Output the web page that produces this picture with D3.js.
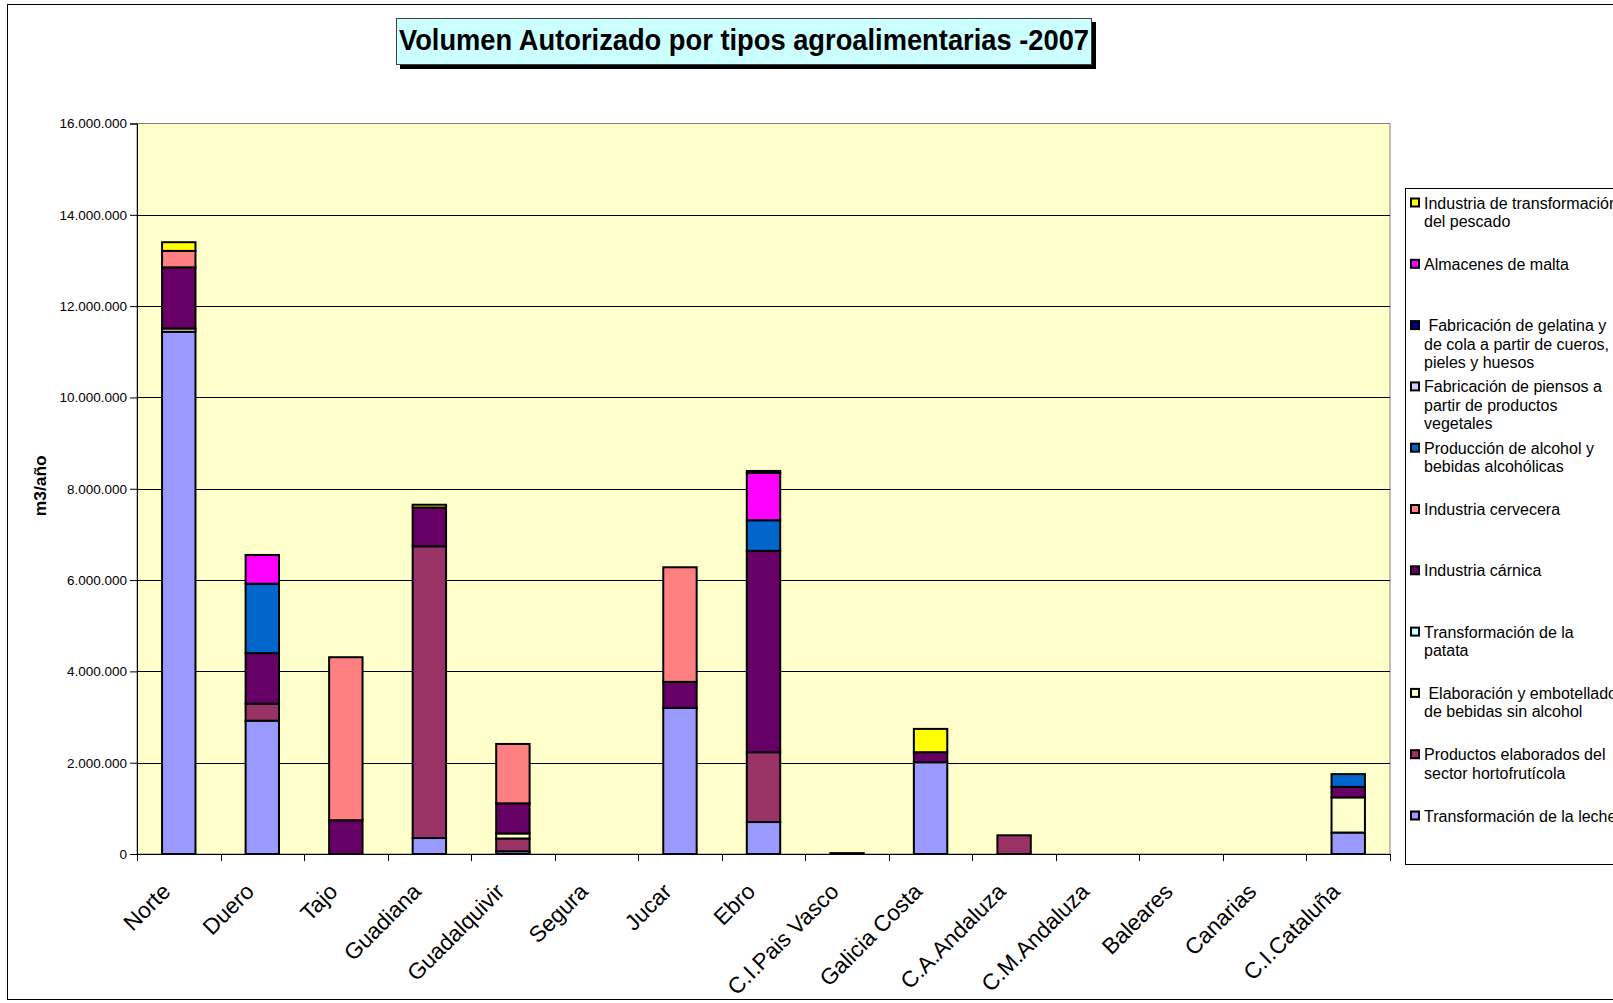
<!DOCTYPE html>
<html>
<head>
<meta charset="utf-8">
<script src="https://cdn.jsdelivr.net/npm/d3@7"></script>
<style>
  body { margin: 0; background: #fff; }
  svg { display: block; font-family: "Liberation Sans", Arial, sans-serif; }
</style>
</head>
<body>
<div id="chart"></div>
<script>
const categories = ["Norte", "Duero", "Tajo", "Guadiana", "Guadalquivir", "Segura", "Jucar", "Ebro",
    "C.I.Pais Vasco", "Galicia Costa", "C.A.Andaluza", "C.M.Andaluza", "Baleares", "Canarias", "C.I.Cataluña"];

// series in stacking order, bottom to top
const seriesKeys = ["leche", "horto", "bebidas", "patata", "carnica", "cervecera", "alcohol", "piensos", "gelatina", "malta", "pescado"];

const seriesLabels = [
    ["Transformación de la leche"],
    ["Productos elaborados del", "sector hortofrutícola"],
    [" Elaboración y embotellado", "de bebidas sin alcohol"],
    ["Transformación de la", "patata"],
    ["Industria cárnica"],
    ["Industria cervecera"],
    ["Producción de alcohol y", "bebidas alcohólicas"],
    ["Fabricación de piensos a", "partir de productos", "vegetales"],
    [" Fabricación de gelatina y", "de cola a partir de cueros,", "pieles y huesos"],
    ["Almacenes de malta"],
    ["Industria de transformación", "del pescado"]
];

const seriesColors = ["#9999FF", "#993366", "#FFFFCC", "#CCFFFF", "#660066", "#FF8080", "#0066CC", "#CCCCFF", "#000080", "#FF00FF", "#FFFF00"];

const leche     = [11440000, 2920000, 0, 350000, 60000, 0, 3200000, 700000, 0, 2010000, 0, 0, 0, 0, 470000];
const horto     = [0, 370000, 0, 6390000, 280000, 0, 0, 1530000, 0, 0, 410000, 0, 0, 0, 0];
const bebidas   = [70000, 0, 0, 0, 110000, 0, 0, 0, 0, 0, 0, 0, 0, 0, 770000];
const patata    = [0, 0, 0, 0, 0, 0, 0, 0, 0, 0, 0, 0, 0, 0, 0];
const carnica   = [1340000, 1110000, 740000, 850000, 660000, 0, 570000, 4410000, 20000, 220000, 0, 0, 0, 0, 230000];
const cervecera = [360000, 0, 3570000, 0, 1300000, 0, 2510000, 0, 0, 0, 0, 0, 0, 0, 0];
const alcohol   = [0, 1520000, 0, 0, 0, 0, 0, 670000, 0, 0, 0, 0, 0, 0, 280000];
const piensos   = [0, 0, 0, 0, 0, 0, 0, 0, 0, 0, 0, 0, 0, 0, 0];
const gelatina  = [0, 0, 0, 0, 0, 0, 0, 0, 0, 0, 0, 0, 0, 0, 0];
const malta     = [0, 630000, 0, 0, 0, 0, 0, 1040000, 0, 0, 0, 0, 0, 0, 0];
const pescado   = [190000, 0, 0, 60000, 0, 0, 0, 40000, 0, 510000, 0, 0, 0, 0, 0];

const yTicks = [0, 2000000, 4000000, 6000000, 8000000, 10000000, 12000000, 14000000, 16000000];

const seriesValues = { leche, horto, bebidas, patata, carnica, cervecera, alcohol, piensos, gelatina, malta, pescado };

const table = categories.map((c, i) => {
    const row = { category: c };
    seriesKeys.forEach(k => row[k] = seriesValues[k][i]);
    return row;
});

const width = 1613;
const height = 1003;
const plot = { left: 137, right: 1390, top: 123.5, bottom: 854 };

const svg = d3.select("#chart")
    .append("svg")
    .attr("width", width)
    .attr("height", height);

// outer chart frame
svg.append("rect")
    .attr("x", 7.5).attr("y", 4.5)
    .attr("width", 1640).attr("height", 995)
    .attr("fill", "#fff")
    .attr("stroke", "#000");

const x = d3.scaleBand()
    .domain(categories)
    .range([plot.left, plot.right])
    .paddingInner(0.6)
    .paddingOuter(0.3);

const xEdges = d3.scaleBand()
    .domain(categories)
    .range([plot.left, plot.right]);

const y = d3.scaleLinear()
    .domain([0, 16000000])
    .range([plot.bottom, plot.top]);

const color = d3.scaleOrdinal().domain(seriesKeys).range(seriesColors);

const locale = d3.formatLocale({ decimal: ",", thousands: ".", grouping: [3], currency: ["", "€"] });
const fmt = locale.format(",");

// plot area
svg.append("rect")
    .attr("x", plot.left).attr("y", plot.top)
    .attr("width", plot.right - plot.left).attr("height", plot.bottom - plot.top)
    .attr("fill", "#FFFFCC")
    .attr("stroke", "#808080");

// gridlines
svg.append("g")
    .selectAll("line")
    .data(yTicks.slice(1, -1))
    .enter()
    .append("line")
    .attr("x1", plot.left).attr("x2", plot.right)
    .attr("y1", d => Math.round(y(d)) + 0.5)
    .attr("y2", d => Math.round(y(d)) + 0.5)
    .attr("stroke", "#000")
    .attr("stroke-width", 1);

// stacked bars
const stacked = d3.stack().keys(seriesKeys)(table);

svg.append("g")
    .selectAll("g")
    .data(stacked)
    .enter()
    .append("g")
    .attr("fill", d => color(d.key))
    .selectAll("rect")
    .data(d => d.filter(s => s[1] - s[0] > 0))
    .enter()
    .append("rect")
    .attr("x", d => x(d.data.category))
    .attr("width", x.bandwidth())
    .attr("y", d => y(d[1]))
    .attr("height", d => y(d[0]) - y(d[1]))
    .attr("stroke", "#000")
    .attr("stroke-width", 2);

// y axis
const yAxis = svg.append("g")
    .attr("transform", `translate(${plot.left},0)`)
    .call(d3.axisLeft(y).tickValues(yTicks).tickSize(7).tickPadding(3).tickFormat(fmt));
yAxis.select(".domain").attr("stroke", "#000");
yAxis.selectAll("line").attr("stroke", "#000");
yAxis.selectAll("text")
    .attr("font-size", "13.5px")
    .attr("fill", "#000")
    .attr("font-family", "'Liberation Sans', Arial, sans-serif");

// x axis
const xAxis = svg.append("g")
    .attr("transform", `translate(0,${plot.bottom})`)
    .call(d3.axisBottom(xEdges).tickSize(0).tickFormat(""));
xAxis.select(".domain").attr("stroke", "#000");

svg.append("g")
    .selectAll("line")
    .data(categories.concat(["end"]))
    .enter()
    .append("line")
    .attr("x1", (d, i) => Math.round(plot.left + i * xEdges.bandwidth()) + 0.5)
    .attr("x2", (d, i) => Math.round(plot.left + i * xEdges.bandwidth()) + 0.5)
    .attr("y1", plot.bottom)
    .attr("y2", plot.bottom + 7)
    .attr("stroke", "#000");

svg.append("g")
    .selectAll("text")
    .data(categories)
    .enter()
    .append("text")
    .attr("transform", d => `translate(${xEdges(d) + xEdges.bandwidth() / 2 - 7},${plot.bottom + 39}) rotate(-45)`)
    .attr("text-anchor", "end")
    .attr("font-size", "22.5px")
    .attr("fill", "#000")
    .text(d => d);

// y axis title
svg.append("text")
    .attr("transform", `translate(46,${(plot.top + plot.bottom) / 2 - 3}) rotate(-90)`)
    .attr("text-anchor", "middle")
    .attr("font-family", "'Liberation Sans Narrow', 'Arial Narrow', 'Liberation Sans', sans-serif")
    .attr("font-weight", "bold")
    .attr("font-size", "17px")
    .attr("textLength", 61)
    .attr("lengthAdjust", "spacingAndGlyphs")
    .text("m3/año");

// title
svg.append("rect")
    .attr("x", 400).attr("y", 22)
    .attr("width", 696).attr("height", 47)
    .attr("fill", "#000");
svg.append("rect")
    .attr("x", 396.5).attr("y", 18.5)
    .attr("width", 695).attr("height", 46)
    .attr("fill", "#CCFFFF")
    .attr("stroke", "#404040");
svg.append("text")
    .attr("x", 744)
    .attr("y", 50)
    .attr("text-anchor", "middle")
    .attr("font-family", "'Liberation Sans Narrow', 'Arial Narrow', 'Liberation Sans', sans-serif")
    .attr("font-weight", "bold")
    .attr("font-size", "29px")
    .attr("textLength", 690)
    .attr("lengthAdjust", "spacingAndGlyphs")
    .text("Volumen Autorizado por tipos agroalimentarias -2007");

// legend
svg.append("rect")
    .attr("x", 1405.5).attr("y", 188.5)
    .attr("width", 300).attr("height", 676)
    .attr("fill", "#fff")
    .attr("stroke", "#000");

const legendOrder = seriesKeys.map((k, i) => i).reverse();
const legend = svg.append("g")
    .selectAll("g")
    .data(legendOrder)
    .enter()
    .append("g")
    .attr("transform", (d, i) => `translate(1410,${203 + i * 61.3})`);

legend.append("rect")
    .attr("x", 1).attr("y", -4.5)
    .attr("width", 8).attr("height", 8)
    .attr("fill", d => seriesColors[d])
    .attr("stroke", "#000")
    .attr("stroke-width", 2);

legend.append("text")
    .attr("x", 14)
    .attr("y", 5.5)
    .attr("font-size", "16px")
    .attr("fill", "#000")
    .attr("xml:space", "preserve")
    .style("white-space", "pre")
    .selectAll("tspan")
    .data(d => seriesLabels[d])
    .enter()
    .append("tspan")
    .attr("x", 14)
    .attr("dy", (d, i) => i === 0 ? 0 : 18.5)
    .text(d => d);
</script>
</body>
</html>
